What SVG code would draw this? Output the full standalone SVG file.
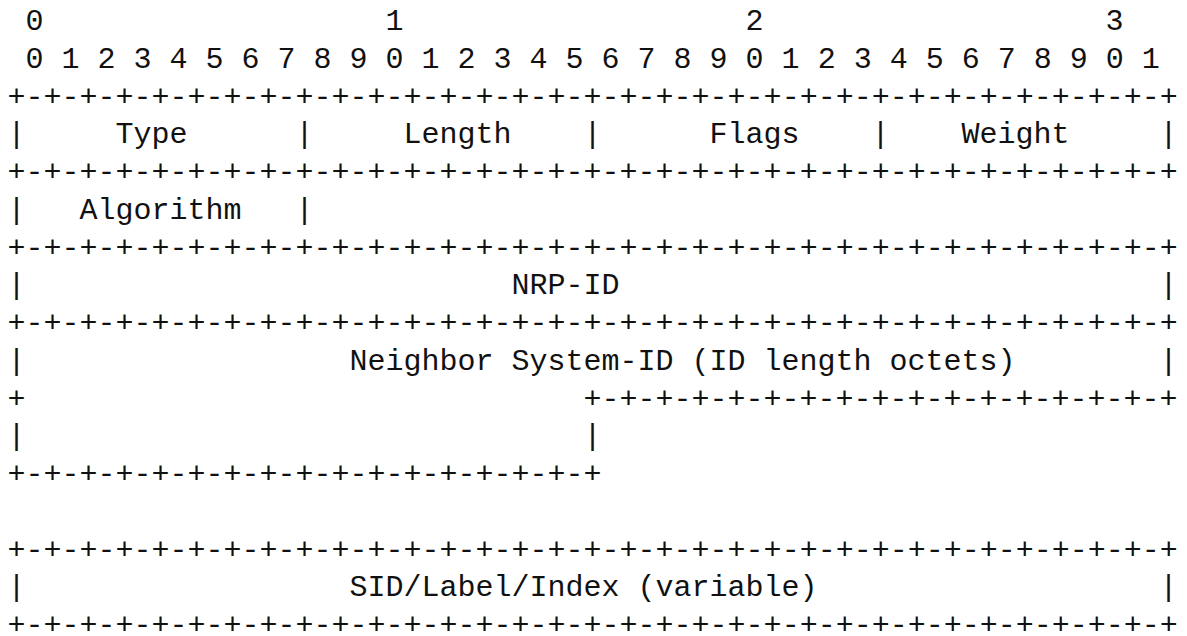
<svg xmlns="http://www.w3.org/2000/svg" width="1187" height="636" viewBox="0 0 1187 636">
  <style>
    text { font-family: "Liberation Mono", "DejaVu Sans Mono", monospace; font-size: 30px; fill: #111; white-space: pre; }
  </style>
  <rect width="1187" height="636" fill="#fff"/>

  <!-- bit ruler: one column = 18px, column 0 starts at x=7.5 -->
  <g id="ruler">
    <text x="25.5" y="30">0</text>
    <text x="385.5" y="30">1</text>
    <text x="745.5" y="30">2</text>
    <text x="1105.5" y="30">3</text>
    <text x="25.5" y="67.75">0 1 2 3 4 5 6 7 8 9 0 1 2 3 4 5 6 7 8 9 0 1 2 3 4 5 6 7 8 9 0 1</text>
  </g>

  <!-- borders between the rows of the packet -->
  <g id="borders">
    <text x="7.5" y="105.5">+-+-+-+-+-+-+-+-+-+-+-+-+-+-+-+-+-+-+-+-+-+-+-+-+-+-+-+-+-+-+-+-+</text>
    <text x="7.5" y="181">+-+-+-+-+-+-+-+-+-+-+-+-+-+-+-+-+-+-+-+-+-+-+-+-+-+-+-+-+-+-+-+-+</text>
    <text x="7.5" y="256.5">+-+-+-+-+-+-+-+-+-+-+-+-+-+-+-+-+-+-+-+-+-+-+-+-+-+-+-+-+-+-+-+-+</text>
    <text x="7.5" y="332">+-+-+-+-+-+-+-+-+-+-+-+-+-+-+-+-+-+-+-+-+-+-+-+-+-+-+-+-+-+-+-+-+</text>
    <text x="7.5" y="407.5">+</text>
    <text x="583.5" y="407.5">+-+-+-+-+-+-+-+-+-+-+-+-+-+-+-+-+</text>
    <text x="7.5" y="483">+-+-+-+-+-+-+-+-+-+-+-+-+-+-+-+-+</text>
    <text x="7.5" y="558.5">+-+-+-+-+-+-+-+-+-+-+-+-+-+-+-+-+-+-+-+-+-+-+-+-+-+-+-+-+-+-+-+-+</text>
    <text x="7.5" y="634">+-+-+-+-+-+-+-+-+-+-+-+-+-+-+-+-+-+-+-+-+-+-+-+-+-+-+-+-+-+-+-+-+</text>
  </g>

  <!-- first word: Type / Length / Flags / Weight -->
  <g id="row-type-length-flags-weight">
    <text x="7.5" y="143.25">|</text>
    <text x="115.5" y="143.25">Type</text>
    <text x="295.5" y="143.25">|</text>
    <text x="403.5" y="143.25">Length</text>
    <text x="583.5" y="143.25">|</text>
    <text x="709.5" y="143.25">Flags</text>
    <text x="871.5" y="143.25">|</text>
    <text x="961.5" y="143.25">Weight</text>
    <text x="1159.5" y="143.25">|</text>
  </g>

  <g id="row-algorithm">
    <text x="7.5" y="218.75">|</text>
    <text x="79.5" y="218.75">Algorithm</text>
    <text x="295.5" y="218.75">|</text>
  </g>

  <g id="row-nrp-id">
    <text x="7.5" y="294.25">|</text>
    <text x="511.5" y="294.25">NRP-ID</text>
    <text x="1159.5" y="294.25">|</text>
  </g>

  <g id="row-neighbor-system-id">
    <text x="7.5" y="369.75">|</text>
    <text x="349.5" y="369.75">Neighbor System-ID (ID length octets)</text>
    <text x="1159.5" y="369.75">|</text>
    <text x="7.5" y="445.25">|</text>
    <text x="583.5" y="445.25">|</text>
  </g>

  <g id="row-sid-label-index">
    <text x="7.5" y="596.25">|</text>
    <text x="349.5" y="596.25">SID/Label/Index (variable)</text>
    <text x="1159.5" y="596.25">|</text>
  </g>
</svg>
